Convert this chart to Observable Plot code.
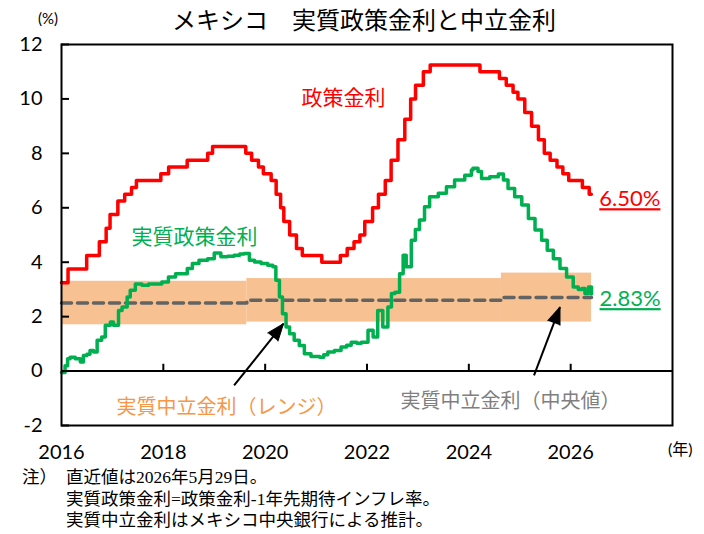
<!DOCTYPE html>
<html>
<head>
<meta charset="utf-8">
<script src="https://cdn.jsdelivr.net/npm/d3@7"></script>
<script src="https://cdn.jsdelivr.net/npm/@observablehq/plot@0.6"></script>
<style>
  body { margin: 0; background: #fff; }
  #wrap { position: relative; width: 704px; height: 534px; overflow: hidden; font-family: "Noto Sans CJK JP", sans-serif; color: #000; }
  #wrap svg { position: absolute; left: 0; top: 0; }
  .abs { position: absolute; white-space: nowrap; }
  #title { left: 364px; top: 3px; transform: translateX(-50%); font-size: 24px; line-height: 32px; }
  #unitY { left: 38px; top: 8px; font-family: Lato, sans-serif; font-size: 15px; line-height: 20px; }
  #unitX { left: 668px; top: 438px; font-family: Lato, "Noto Sans CJK JP", sans-serif; font-size: 16px; line-height: 22px; }
  .note { font-family: "Liberation Serif", "Noto Sans CJK JP", serif; font-size: 17.5px; line-height: 21px; }
</style>
</head>
<body>
<div id="wrap">
  <div id="title" class="abs">メキシコ　実質政策金利と中立金利</div>
  <div id="unitY" class="abs">(%)</div>
  <div id="unitX" class="abs">(年)</div>
  <div class="abs note" style="left:22px;top:467px;">注）</div>
  <div class="abs note" style="left:66px;top:467px;">直近値は2026年5月29日。</div>
  <div class="abs note" style="left:66px;top:489px;">実質政策金利=政策金利-1年先期待インフレ率。</div>
  <div class="abs note" style="left:66px;top:510px;">実質中立金利はメキシコ中央銀行による推計。</div>
</div>
<script>
// Banxico policy rate: decision dates and the new target rate (%)
const policyDates = [
  "2016-01-01","2016-02-17","2016-06-30","2016-09-29","2016-11-17","2016-12-15",
  "2017-02-09","2017-03-30","2017-05-18","2017-06-22","2017-12-14",
  "2018-02-08","2018-06-21","2018-11-15","2018-12-20",
  "2019-08-15","2019-09-26","2019-11-14","2019-12-19",
  "2020-02-13","2020-03-20","2020-04-21","2020-05-14","2020-06-25","2020-08-13","2020-09-24",
  "2021-02-11","2021-06-24","2021-08-12","2021-09-30","2021-11-11","2021-12-16",
  "2022-02-10","2022-03-24","2022-05-12","2022-06-23","2022-08-11","2022-09-29","2022-11-10","2022-12-15",
  "2023-02-09","2023-03-30",
  "2024-03-21","2024-08-08","2024-09-26","2024-11-14","2024-12-19",
  "2025-02-06","2025-03-27","2025-05-15","2025-06-26","2025-08-07","2025-09-25","2025-11-06","2025-12-18",
  "2026-03-26","2026-05-14","2026-05-29"
];
const policyRates = [
  3.25,3.75,4.25,4.75,5.25,5.75,
  6.25,6.50,6.75,7.00,7.25,
  7.50,7.75,8.00,8.25,
  8.00,7.75,7.50,7.25,
  7.00,6.50,6.00,5.50,5.00,4.50,4.25,
  4.00,4.25,4.50,4.75,5.00,5.50,
  6.00,6.50,7.00,7.75,8.50,9.25,10.00,10.50,
  11.00,11.25,
  11.00,10.75,10.50,10.25,10.00,
  9.50,9.00,8.50,8.00,7.75,7.50,7.25,7.00,
  6.75,6.50,6.50
];

// Real policy rate (policy rate minus 1-year-ahead expected inflation), by fractional year
const realYears = [
  2016.00,2016.07,2016.12,2016.17,2016.27,2016.37,2016.43,2016.50,2016.56,2016.63,
  2016.70,2016.79,2016.86,2016.93,2016.96,2017.02,2017.12,2017.19,2017.29,2017.35,
  2017.45,2017.58,2017.71,2017.84,2017.97,2018.10,2018.24,2018.37,2018.47,2018.57,
  2018.70,2018.87,2019.00,2019.13,2019.26,2019.39,2019.50,2019.59,2019.69,2019.79,
  2019.92,2020.05,2020.15,2020.21,2020.28,2020.34,2020.41,2020.48,2020.57,2020.67,
  2020.77,2020.90,2021.07,2021.15,2021.23,2021.36,2021.49,2021.60,2021.69,2021.80,
  2021.89,2022.02,2022.12,2022.21,2022.31,2022.41,2022.48,2022.55,2022.64,2022.71,
  2022.77,2022.87,2022.95,2023.03,2023.13,2023.23,2023.40,2023.56,2023.72,2023.92,
  2024.05,2024.08,2024.18,2024.25,2024.41,2024.58,2024.68,2024.77,2024.90,2025.04,
  2025.17,2025.30,2025.43,2025.54,2025.66,2025.79,2025.92,2026.05,2026.15,2026.22,
  2026.28,2026.35,2026.41
];
const realRates = [
  -0.05,0.20,0.45,0.51,0.45,0.33,0.57,0.62,0.76,0.70,
  1.13,1.25,1.68,1.68,1.80,1.68,2.23,2.35,2.72,2.97,
  3.20,3.15,3.20,3.20,3.27,3.46,3.58,3.58,3.77,3.95,
  4.07,4.13,4.34,4.20,4.22,4.26,4.30,4.32,4.07,4.01,
  3.95,3.89,3.83,3.34,2.72,2.11,1.62,1.37,1.13,0.94,
  0.64,0.54,0.51,0.60,0.70,0.76,0.88,0.95,1.06,1.02,
  1.06,1.50,1.25,2.23,1.62,2.35,2.85,2.90,3.58,4.26,
  3.83,4.81,5.20,5.55,6.04,6.41,6.53,6.77,7.02,7.20,
  7.39,7.45,7.33,7.08,7.14,7.24,7.02,6.71,6.41,6.10,
  5.61,5.18,4.81,4.44,4.13,3.77,3.46,3.09,3.00,3.03,
  2.85,3.09,2.83
];

// Banxico's real neutral rate estimate: range and midpoint per period
const neutralStart = [2016.00, 2019.64, 2024.64];
const neutralEnd   = [2019.64, 2024.64, 2026.41];
const neutralLow   = [1.7, 1.8, 1.8];
const neutralHigh  = [3.3, 3.4, 3.6];
const neutralMid   = [2.5, 2.6, 2.7];

// Axis ticks
const xTickYears = [2016, 2018, 2020, 2022, 2024, 2026];
const yTickValues = [-2, 0, 2, 4, 6, 8, 10, 12];

// Series labels (text, anchor position) and callout arrows
const seriesLabels = [
  {text: "政策金利",               x: 2021.54, y: 10.02, color: "#FF0000", size: 21, spacing: 2.5},
  {text: "実質政策金利",           x: 2018.61, y: 4.91,  color: "#00B050", size: 21, spacing: 2.5},
  {text: "実質中立金利（レンジ）", x: 2019.24, y: -1.34, color: "#F79646", size: 20, spacing: 1},
  {text: "実質中立金利（中央値）", x: 2024.82, y: -1.12, color: "#7F7F7F", size: 20, spacing: 1.5}
];
const arrowX1 = [2019.39, 2025.28];
const arrowY1 = [-0.53, -0.16];
const arrowX2 = [2020.36, 2025.79];
const arrowY2 = [1.74, 2.35];

// ---- build tables ----
function decYear(s) {
  const d = new Date(s + "T00:00:00Z");
  const y = d.getUTCFullYear();
  const a = Date.UTC(y, 0, 1), b = Date.UTC(y + 1, 0, 1);
  return y + (d - a) / (b - a);
}
const policy = policyDates.map((s, i) => ({t: decYear(s), v: policyRates[i]}));
const real = realYears.map((t, i) => ({t, v: realRates[i]}));
const neutral = neutralStart.map((s, i) => ({
  x1: s, x2: neutralEnd[i], lo: neutralLow[i], hi: neutralHigh[i], mid: neutralMid[i]
}));
const midLine = neutral.map(d => ({t: d.x1, v: d.mid}))
  .concat([{t: neutral[neutral.length - 1].x2, v: neutral[neutral.length - 1].mid}]);

const W = 704, H = 466, ML = 61, MR = 32, MT = 44, MB = 41;
const xDomain = [2016, 2028], yDomain = [-2, 12];
const kx = (W - ML - MR) / (xDomain[1] - xDomain[0]);
const ky = (H - MT - MB) / (yDomain[1] - yDomain[0]);
const arrows = arrowX1.map((x1, i) => {
  const dxp = (arrowX2[i] - x1) * kx, dyp = (arrowY2[i] - arrowY1[i]) * ky;
  return {x1, y1: arrowY1[i], x2: arrowX2[i], y2: arrowY2[i],
          angle: Math.atan2(dxp, dyp) * 180 / Math.PI};
});

const lastPolicy = policy[policy.length - 1];
const lastReal = real[real.length - 1];
const endLabels = [
  {t: lastPolicy.t, v: lastPolicy.v, color: "#FF0000"},
  {t: lastReal.t, v: lastReal.v, color: "#00B050"}
];

const JP = "'Noto Sans CJK JP', sans-serif";
const NUM = "Lato, 'Noto Sans', sans-serif";

const chart = Plot.plot({
  width: W, height: H,
  marginLeft: ML, marginRight: MR, marginTop: MT, marginBottom: MB,
  style: {background: "transparent", fontFamily: NUM, fontSize: "20px", color: "#000"},
  x: {domain: xDomain},
  y: {domain: yDomain},
  marks: [
    Plot.rect(neutral, {x1: "x1", x2: "x2", y1: "lo", y2: "hi", fill: "#F8C191"}),
    Plot.line(midLine, {x: "t", y: "v", curve: "step-after", stroke: "#636363",
      strokeWidth: 3.5, strokeDasharray: "10,6"}),
    Plot.ruleY([0], {stroke: "#000", strokeWidth: 2}),
    Plot.ruleX(xTickYears.slice(1), {x: d => d, y1: 0, y2: 0.25, stroke: "#000", strokeWidth: 2}),
    Plot.line(policy, {x: "t", y: "v", curve: "step-after", stroke: "#FF0000", strokeWidth: 3.5}),
    Plot.line(real, {x: "t", y: "v", curve: "step-after", stroke: "#00B050", strokeWidth: 3.5}),
    Plot.link(arrows, {x1: "x1", y1: "y1", x2: "x2", y2: "y2", stroke: "#000", strokeWidth: 2}),
    Plot.vector(arrows, {x: "x2", y: "y2", rotate: "angle", length: 17, r: 6.5,
      shape: "spike", anchor: "end", fill: "#000", stroke: "#000", strokeWidth: 1}),
    ...seriesLabels.map(d => Plot.text([d], {x: "x", y: "y", text: "text", fill: d.color,
      fontSize: d.size, fontFamily: JP, letterSpacing: d.spacing + "px"})),
    Plot.text(endLabels, {x: "t", y: "v", text: d => d.v.toFixed(2) + "%", fill: "color",
      textAnchor: "start", dx: 8, dy: 5, fontSize: 22, fontFamily: NUM}),
    Plot.axisX(xTickYears, {anchor: "bottom", tickSize: 0, tickPadding: 19,
      fontSize: 20, fontFamily: NUM, tickFormat: d => String(d)}),
    Plot.axisY(yTickValues, {anchor: "left", tickSize: -8, tickPadding: 27,
      fontSize: 20, fontFamily: NUM, strokeWidth: 2, tickFormat: d => String(d)}),
    Plot.frame({stroke: "#000", strokeWidth: 2})
  ]
});

// value labels are underlined
d3.select(chart).selectAll("text")
  .filter(function () { return /%$/.test(this.textContent); })
  .style("text-decoration", "underline")
  .style("text-decoration-thickness", "2px");

document.getElementById("wrap").prepend(chart);
</script>
</body>
</html>
